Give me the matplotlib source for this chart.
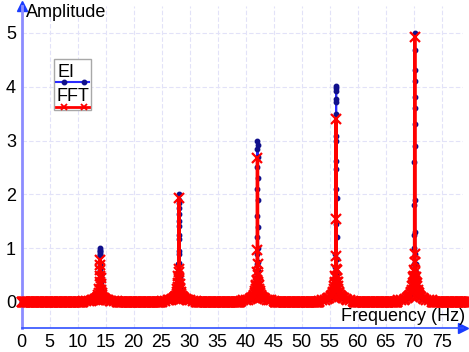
import matplotlib
matplotlib.use("Agg")
import matplotlib.pyplot as plt
from matplotlib.lines import Line2D
from matplotlib.patches import Rectangle
import numpy as np

plt.rcParams["font.family"] = ["Liberation Sans", "DejaVu Sans"]
plt.rcParams["font.size"] = 13

# Peak centres (Hz)
peak_centres = [14.04, 28.08, 42.12, 56.16, 70.2]

# leakage skirt on each side of a peak (distance from centre, Hz) - both series
skirt_offsets = [3.0, 2.5, 2.0, 1.7, 1.4, 1.2, 1.0, 0.85, 0.7, 0.6, 0.5, 0.4, 0.32, 0.25]
skirt_14 = [0.01, 0.015, 0.02, 0.025, 0.03, 0.035, 0.04, 0.05, 0.06, 0.07, 0.08, 0.1, 0.13, 0.17]
skirt_28 = [0.02, 0.025, 0.03, 0.035, 0.045, 0.05, 0.06, 0.07, 0.085, 0.1, 0.12, 0.15, 0.19, 0.25]
skirt_42 = [0.02, 0.03, 0.035, 0.045, 0.055, 0.065, 0.08, 0.09, 0.11, 0.13, 0.16, 0.2, 0.25, 0.32]
skirt_56 = [0.025, 0.03, 0.04, 0.05, 0.065, 0.075, 0.09, 0.11, 0.13, 0.16, 0.19, 0.24, 0.3, 0.38]
skirt_70 = [0.03, 0.035, 0.045, 0.06, 0.075, 0.09, 0.11, 0.13, 0.16, 0.19, 0.23, 0.29, 0.36, 0.46]

# EI: fine sampling at the top of each peak
ei_offsets = [-0.2, -0.15, -0.11, -0.08, -0.06, -0.045, -0.03, -0.02, -0.01, 0.0,
              0.01, 0.02, 0.03, 0.045, 0.06, 0.08, 0.11, 0.15, 0.2]
ei_peak_14 = [0.2, 0.25, 0.3, 0.35, 0.45, 0.6, 0.85, 0.9, 0.95, 1.0,
              0.97, 0.92, 0.87, 0.7, 0.5, 0.38, 0.3, 0.25, 0.2]
ei_peak_28 = [0.35, 0.45, 0.55, 0.7, 0.9, 1.17, 1.41, 1.63, 1.83, 2.0,
              1.9, 1.75, 1.5, 1.25, 0.95, 0.72, 0.55, 0.45, 0.35]
ei_peak_42 = [0.45, 0.55, 0.7, 0.9, 1.2, 1.6, 2.1, 2.5, 2.85, 3.0,
              2.92, 2.7, 2.3, 1.9, 1.4, 1.0, 0.75, 0.58, 0.45]
ei_peak_56 = [0.5, 0.65, 0.9, 1.44, 2.09, 2.62, 3.08, 3.5, 3.92, 4.02,
              3.97, 3.78, 3.72, 2.99, 2.48, 1.93, 1.2, 0.8, 0.55]
ei_peak_70 = [0.55, 0.7, 1.0, 1.24, 1.8, 2.6, 3.3, 3.8, 4.31, 5.0,
              4.68, 4.1, 3.6, 2.9, 1.9, 1.3, 0.9, 0.7, 0.55]

# FFT: coarser sampling at the top of each peak
fft_offsets = [-0.18, -0.12, -0.08, -0.04, 0.0, 0.04, 0.08, 0.12, 0.18]
fft_peak_14 = [0.25, 0.38, 0.49, 0.68, 0.78, 0.59, 0.45, 0.33, 0.22]
fft_peak_28 = [0.28, 0.36, 0.48, 0.62, 1.93, 0.55, 0.42, 0.33, 0.26]
fft_peak_42 = [0.3, 0.4, 0.55, 0.97, 2.68, 0.7, 0.5, 0.38, 0.3]
fft_peak_56 = [0.35, 0.48, 0.62, 1.55, 3.4, 0.85, 0.6, 0.45, 0.38]
fft_peak_70 = [0.38, 0.48, 0.6, 0.9, 4.93, 0.75, 0.55, 0.45, 0.38]

# flat part of both spectra away from the peaks (amplitude ~0)
base_freq = np.arange(0.0, 80.01, 0.1)
base_amp = 0.0

skirts = [skirt_14, skirt_28, skirt_42, skirt_56, skirt_70]
ei_peaks = [ei_peak_14, ei_peak_28, ei_peak_42, ei_peak_56, ei_peak_70]
fft_peaks = [fft_peak_14, fft_peak_28, fft_peak_42, fft_peak_56, fft_peak_70]


def build_series(core_offsets, peaks):
    freqs = []
    amps = []
    for f in base_freq:
        if all(abs(f - c) > 3.05 for c in peak_centres):
            freqs.append(f)
            amps.append(base_amp)
    for c, sk, vals in zip(peak_centres, skirts, peaks):
        for off, v in zip(skirt_offsets, sk):
            freqs += [c - off, c + off]
            amps += [v, v]
        for off, v in zip(core_offsets, vals):
            freqs.append(c + off)
            amps.append(v)
    order = np.argsort(freqs, kind="stable")
    return np.array(freqs)[order], np.array(amps)[order]


ei_f, ei_a = build_series(ei_offsets, ei_peaks)
fft_f, fft_a = build_series(fft_offsets, fft_peaks)

fig = plt.figure(figsize=(4.69, 3.52), dpi=100)
ax = fig.add_axes([0.046, 0.068, 0.941, 0.915])

ax.plot(ei_f, ei_a, color="#2a2aff", lw=1.5, marker="o", ms=3.2,
        mfc="#10108c", mec="#10108c", zorder=3, clip_on=False)
ax.plot(fft_f, fft_a, color="#ff0000", lw=2.4, marker="x", ms=6.8, mew=1.6,
        zorder=4, clip_on=False)

ax.set_xlim(0, 78.8)
ax.set_ylim(-0.485, 5.5)
ax.set_xticks(np.arange(0, 80, 5))
ax.set_yticks(np.arange(0, 6, 1))
ax.grid(True, color="#e2e2f8", lw=0.8, ls=(0, (4, 2)))
ax.set_axisbelow(True)
ax.tick_params(length=0, pad=4, labelsize=13)

for s in ["top", "right"]:
    ax.spines[s].set_visible(False)
ax.spines["left"].set_color("#8c8cff")
ax.spines["left"].set_linewidth(2)
ax.spines["bottom"].set_color("#3050ff")
ax.spines["bottom"].set_linewidth(1.2)

# arrow heads on the axes
ax.plot(1, 0, ">", color="#1a3cff", ms=7, transform=ax.transAxes, clip_on=False)
ax.plot(0, 1, "^", color="#1a3cff", ms=7, transform=ax.transAxes, clip_on=False)

# axis titles placed inside
fig.text(26 / 469, 1 - 17 / 352, "Amplitude", fontsize=13, va="baseline")
fig.text(465 / 469, 1 - 321 / 352, "Frequency (Hz)", fontsize=13,
         va="baseline", ha="right")

# legend box (text above sample line)
W, H = 469, 352
fig.add_artist(Rectangle((54 / W, 1 - 110 / H), 37 / W, 51 / H,
                         transform=fig.transFigure, facecolor="white",
                         edgecolor="#a8a8a8", lw=1, zorder=10))
fig.text(57 / W, 1 - 77 / H, "EI", fontsize=13, va="baseline", zorder=11)
fig.text(56 / W, 1 - 101 / H, "FFT", fontsize=13, va="baseline", zorder=11)
fig.add_artist(Line2D([56 / W, 89 / W], [1 - 82 / H, 1 - 82 / H],
                      transform=fig.transFigure, color="#2a2aff", lw=1.5,
                      zorder=11))
fig.add_artist(Line2D([64 / W, 84 / W], [1 - 82 / H, 1 - 82 / H],
                      transform=fig.transFigure, ls="none", marker="o", ms=3.2,
                      color="#10108c", zorder=12))
fig.add_artist(Line2D([56 / W, 89 / W], [1 - 107 / H, 1 - 107 / H],
                      transform=fig.transFigure, color="#ff0000", lw=2.0,
                      zorder=11))
fig.add_artist(Line2D([64 / W, 84 / W], [1 - 107 / H, 1 - 107 / H],
                      transform=fig.transFigure, ls="none", marker="x", ms=4,
                      mew=1.3, color="#ff0000", zorder=12))

fig.savefig("out.png", dpi=100)
